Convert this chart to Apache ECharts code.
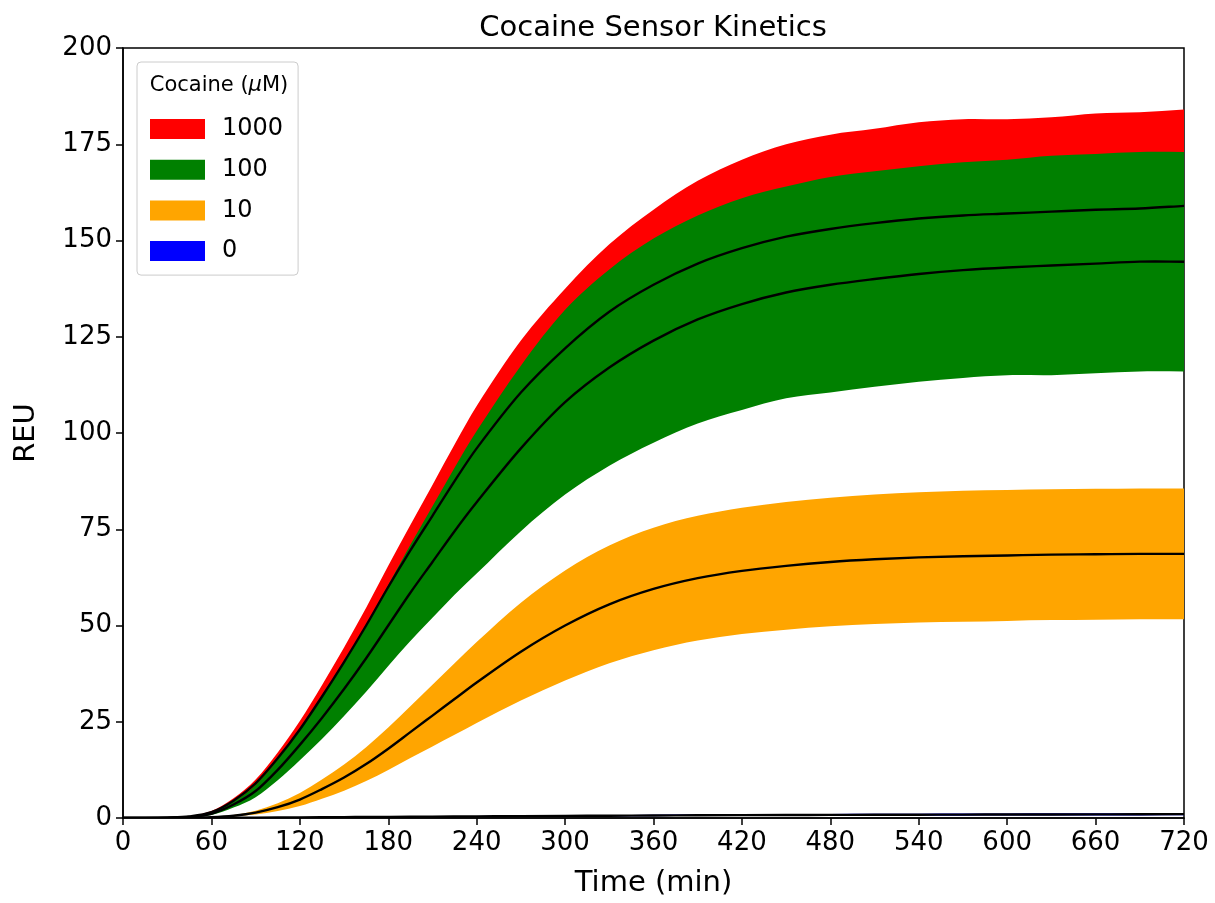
<!DOCTYPE html>
<html><head><meta charset="utf-8">
<script src="https://cdn.jsdelivr.net/npm/echarts@6/dist/echarts.min.js"></script>
<style>html,body{margin:0;padding:0;background:#fff}#c{width:1215px;height:903px}</style>
</head><body><div id="c"></div>
<script>
const times = [0,15,30,45,60,75,90,105,120,135,150,165,180,195,210,225,240,270,300,330,360,390,420,450,480,510,540,570,600,630,660,690,720];
const mean1000 = [0,0,0.1,0.4,1.5,4.5,9,15.5,23,31.5,40.5,50,60,69.5,78.5,87.5,96,110.5,122,131.5,138.5,144,148,151,153,154.5,155.7,156.5,157,157.5,158,158.3,159];
const sd1000   = [0,0,0,0.1,0.3,0.6,1,1.5,2.2,3,3.8,4.6,5.5,6.6,8,9.5,11,13.5,15.5,17.5,19.5,21.5,23,24,24.5,24.5,25,25,24.5,24.5,25,25,25];
const mean100  = [0,0,0.1,0.3,1.1,3.5,7,12.5,19,26,33.5,41.5,50,58.5,66.5,74.5,82,96,108,117,124,129.5,133.5,136.5,138.5,140,141.3,142.3,143,143.5,144,144.5,144.5];
const sd100    = [0,0,0,0.1,0.3,0.8,1.6,2.7,4,5.5,7,8.7,10.5,12.5,14.5,16.5,18.5,21.5,24,25.5,26.5,27,27.5,27.5,28,28,28,28,28,28.5,28.5,28.5,28.5];
const mean10   = [0,0,0,0.05,0.2,0.6,1.4,2.8,4.8,7.5,10.5,14,18,22.3,26.6,30.9,35.2,43.2,50,55.5,59.5,62.3,64.2,65.5,66.5,67.2,67.7,68,68.2,68.4,68.5,68.6,68.6];
const sd10     = [0,0,0,0,0.05,0.2,0.5,1,1.7,2.5,3.4,4.4,5.5,6.7,8,9.3,10.5,12.7,14.3,15.3,15.9,16.2,16.4,16.6,16.7,16.8,16.9,17,17,17,17,17,17];
const mean0    = [0,0,0,0.02,0.05,0.08,0.1,0.13,0.17,0.2,0.23,0.27,0.3,0.33,0.37,0.4,0.43,0.5,0.55,0.6,0.65,0.7,0.75,0.78,0.8,0.83,0.86,0.88,0.9,0.92,0.94,0.96,1.0];
const sd0      = [0,0,0,0,0,0,0.02,0.03,0.04,0.05,0.06,0.07,0.08,0.09,0.1,0.11,0.12,0.14,0.16,0.18,0.2,0.21,0.22,0.23,0.24,0.25,0.26,0.27,0.28,0.29,0.3,0.3,0.3];
const concentrations = ['1000','100','10','0'];
const bandColors = ['#ff0000','#008000','#ffa500','#0000ff'];
const xTicks = {min:0, max:720, interval:60};
const yTicks = {min:0, max:200, interval:25};

const means = [mean1000, mean100, mean10, mean0];
const sds = [sd1000, sd100, sd10, sd0];
const FF = '"DejaVu Sans", sans-serif';

// cubic Hermite path through pixel points (rendering only)
function hermite(ctx, p, move) {
  const n = p.length;
  const m = p.map((q, i) => {
    const a = p[Math.max(0, i - 1)], b = p[Math.min(n - 1, i + 1)];
    const dx = b[0] - a[0];
    return dx === 0 ? 0 : (b[1] - a[1]) / dx;
  });
  if (move) ctx.moveTo(p[0][0], p[0][1]);
  for (let i = 0; i < n - 1; i++) {
    const dx = (p[i + 1][0] - p[i][0]) / 3;
    ctx.bezierCurveTo(p[i][0] + dx, p[i][1] + m[i] * dx, p[i + 1][0] - dx, p[i + 1][1] - m[i + 1] * dx, p[i + 1][0], p[i + 1][1]);
  }
}
echarts.graphic.registerShape('bandShape', echarts.graphic.extendShape({
  shape:{up:[], lo:[]},
  buildPath(ctx, shape) {
    if (!shape.up.length) return;
    hermite(ctx, shape.up, true);
    const lo = shape.lo.slice().reverse();
    ctx.lineTo(lo[0][0], lo[0][1]);
    hermite(ctx, lo, false);
    ctx.closePath();
  }
}));
echarts.graphic.registerShape('curveShape', echarts.graphic.extendShape({
  shape:{pts:[]},
  buildPath(ctx, shape) { if (shape.pts.length) hermite(ctx, shape.pts, true); }
}));

const series = [];
concentrations.forEach((name, i) => {
  const rows = times.map((t, k) => [t, means[i][k] - sds[i][k], means[i][k] + sds[i][k]]);
  series.push({
    type:'custom', name:name, coordinateSystem:'cartesian2d', data:rows,
    encode:{x:0, y:2}, z:2+i, silent:true, clip:true,
    itemStyle:{color:bandColors[i]},
    renderItem:(params, api) => {
      if (params.dataIndex !== 0) return null;
      return {type:'bandShape',
        shape:{up:rows.map(r => api.coord([r[0], r[2]])), lo:rows.map(r => api.coord([r[0], r[1]]))},
        style:{fill:bandColors[i], stroke:'none'}};
    }
  });
});
means.forEach((m, i) => {
  const rows = times.map((t, k) => [t, m[k]]);
  series.push({
    type:'custom', name:'mean'+i, coordinateSystem:'cartesian2d', data:rows,
    encode:{x:0, y:1}, z:10, silent:true, clip:true,
    renderItem:(params, api) => {
      if (params.dataIndex !== 0) return null;
      return {type:'curveShape', shape:{pts:rows.map(r => api.coord(r))},
        style:{fill:'none', stroke:'#000', lineWidth:2.4}};
    }
  });
});

const chart = echarts.init(document.getElementById('c'), null, {renderer:'canvas'});
chart.setOption({
  animation:false,
  backgroundColor:'#fff',
  textStyle:{fontFamily:FF},
  grid:{left:123, width:1061, top:48, height:773, show:true, borderColor:'#000', borderWidth:1.5, backgroundColor:'transparent'},
  xAxis:{type:'value', min:xTicks.min, max:xTicks.max, interval:xTicks.interval,
    name:'Time (min)', nameLocation:'middle', nameGap:51,
    nameTextStyle:{fontSize:29, color:'#000', fontFamily:FF},
    axisLine:{show:true, lineStyle:{color:'#000', width:1.5}},
    axisTick:{show:true, length:7, lineStyle:{color:'#000', width:1.5}},
    axisLabel:{fontSize:26, color:'#000', margin:12, fontFamily:FF},
    splitLine:{show:false}},
  yAxis:{type:'value', min:yTicks.min, max:yTicks.max, interval:yTicks.interval,
    name:'REU', nameLocation:'middle', nameGap:82,
    nameTextStyle:{fontSize:29, color:'#000', fontFamily:FF},
    axisLine:{show:true, lineStyle:{color:'#000', width:1.5}},
    axisTick:{show:true, length:7, lineStyle:{color:'#000', width:1.5}},
    axisLabel:{fontSize:26, color:'#000', margin:11, fontFamily:FF},
    splitLine:{show:false}},
  legend:{
    data:concentrations.map((n, i) => ({name:n, icon:'rect', itemStyle:{color:bandColors[i], borderWidth:0}})),
    orient:'vertical', left:137, top:62, padding:[55,15,12,13],
    itemWidth:55, itemHeight:20, itemGap:16.7,
    textStyle:{fontSize:24, color:'#000', fontFamily:FF, padding:[0,0,0,12]},
    backgroundColor:'rgba(255,255,255,0.8)', borderColor:'#cccccc', borderWidth:1, borderRadius:4,
    selectedMode:false, z:20
  },
  graphic:[
    {type:'text', x:653, y:28, z:100, style:{text:'Cocaine Sensor Kinetics', font:'29px "DejaVu Sans"', fill:'#000',
      textAlign:'center', textVerticalAlign:'middle', align:'center', verticalAlign:'middle'}},
    {type:'text', x:219, y:86, z:100, style:{text:'{n|Cocaine (}{it|μ}{n|M)}', fill:'#000',
      textAlign:'center', textVerticalAlign:'middle', align:'center', verticalAlign:'middle',
      rich:{n:{fontSize:21, fontFamily:FF, fill:'#000', color:'#000'}, it:{fontSize:21, fontFamily:FF, fontStyle:'italic', fill:'#000', color:'#000'}}}}
  ],
  series:series
});
</script></body></html>
